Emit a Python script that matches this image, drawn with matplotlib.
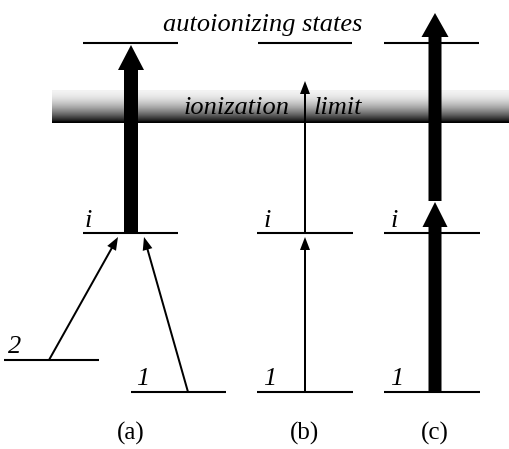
import numpy as np
import matplotlib
matplotlib.use("Agg")
import matplotlib.pyplot as plt
from matplotlib import font_manager
from matplotlib.patches import FancyArrow

# ---- diagram content (pixel-space energy coordinates, y downwards) ----
panel_labels = ["(a)", "(b)", "(c)"]
panel_centers = [131, 305, 435]
# energy levels: (x_start, x_end, y)
level_auto = [(83, 178, 43), (258, 352, 43), (384, 479, 43)]
level_i = [(83, 178, 233), (257, 353, 233), (384, 480, 233)]
level_1 = [(131, 226, 392), (257, 353, 392), (384, 480, 392)]
level_2 = [(4, 99, 360)]
ion_limit_y = (90, 123)
ion_limit_x = (52, 509)

# text labels: (text, x, y)
i_labels = [("i", 88, 227), ("i", 267, 227), ("i", 394, 227)]
one_labels = [("1", 143, 385), ("1", 270, 385), ("1", 397, 385)]
two_labels = [("2", 15, 353)]

# arrows: (x0, y0, x1, y1, shaft_width, head_width, head_length)
thin_arrows = [
    (49, 360, 118, 237, 2.0, 10, 13),
    (188, 392, 144, 237, 2.0, 10, 13),
    (305, 392, 305, 237, 2.0, 10, 13),
    (305, 233, 305, 81, 2.0, 10, 13),
]
thick_arrows = [
    (131, 233, 131, 45, 14, 26, 25),
    (435, 392, 435, 202, 13, 25, 25),
    (435, 201, 435, 13, 13, 27, 24),
]

# locate a Times-like serif font
def find_font(names, italic):
    for name in names:
        for f in font_manager.fontManager.ttflist:
            if f.name == name and ((f.style == "italic") == italic) and f.weight in (400, "normal", "regular"):
                return font_manager.FontProperties(fname=f.fname)
    for name in names:
        for f in font_manager.fontManager.ttflist:
            if f.name == name and ((f.style == "italic") == italic):
                return font_manager.FontProperties(fname=f.fname)
    return font_manager.FontProperties(family="serif", style="italic" if italic else "normal")

serif_names = ["Liberation Serif", "Times New Roman", "Nimbus Roman", "DejaVu Serif"]
fp_it = find_font(serif_names, True)
fp_rm = find_font(serif_names, False)

fig = plt.figure(figsize=(5.09, 4.49), dpi=100)
ax = fig.add_axes([0, 0, 1, 1])

# ionization limit gradient band
n = 64
t = np.linspace(0, 1, n)[:, None]
gray = 0.95 * (1 - t ** 1.8)
gray[-3:] = 0.0
band = np.repeat(gray, 200, axis=1)
ax.imshow(band, cmap="gray", vmin=0, vmax=1, aspect="auto",
          extent=[ion_limit_x[0], ion_limit_x[1], ion_limit_y[1], ion_limit_y[0]],
          origin="upper", interpolation="bilinear", zorder=1)

lw = 1.5
for lv in level_auto + level_i + level_1 + level_2:
    ax.plot([lv[0], lv[1]], [lv[2], lv[2]], color="black", lw=lw,
            solid_capstyle="butt", zorder=2)

for (x0, y0, x1, y1, w, hw, hl) in thin_arrows + thick_arrows:
    ax.add_patch(FancyArrow(x0, y0, x1 - x0, y1 - y0, width=w, head_width=hw,
                            head_length=hl, length_includes_head=True,
                            color="black", lw=0, zorder=3))

fs = 19
ax.text(263, 31, "autoionizing states", fontproperties=fp_it, fontsize=fs,
        ha="center", va="baseline", zorder=4)
ax.text(290, 114, "ionization", fontproperties=fp_it, fontsize=fs,
        ha="right", va="baseline", zorder=4)
ax.text(314, 114, "limit", fontproperties=fp_it, fontsize=fs,
        ha="left", va="baseline", zorder=4)
for txt, x, y in i_labels + one_labels + two_labels:
    ax.text(x, y, txt, fontproperties=fp_it, fontsize=fs,
            ha="center", va="baseline", zorder=4)
for lab, x in zip(panel_labels, panel_centers):
    ax.text(x, 440, lab, fontproperties=fp_rm, fontsize=18, ha="center",
            va="baseline", zorder=4)

ax.set_xlim(0, 509)
ax.set_ylim(449, 0)
ax.axis("off")
fig.savefig("out.png", dpi=100, facecolor="white")
